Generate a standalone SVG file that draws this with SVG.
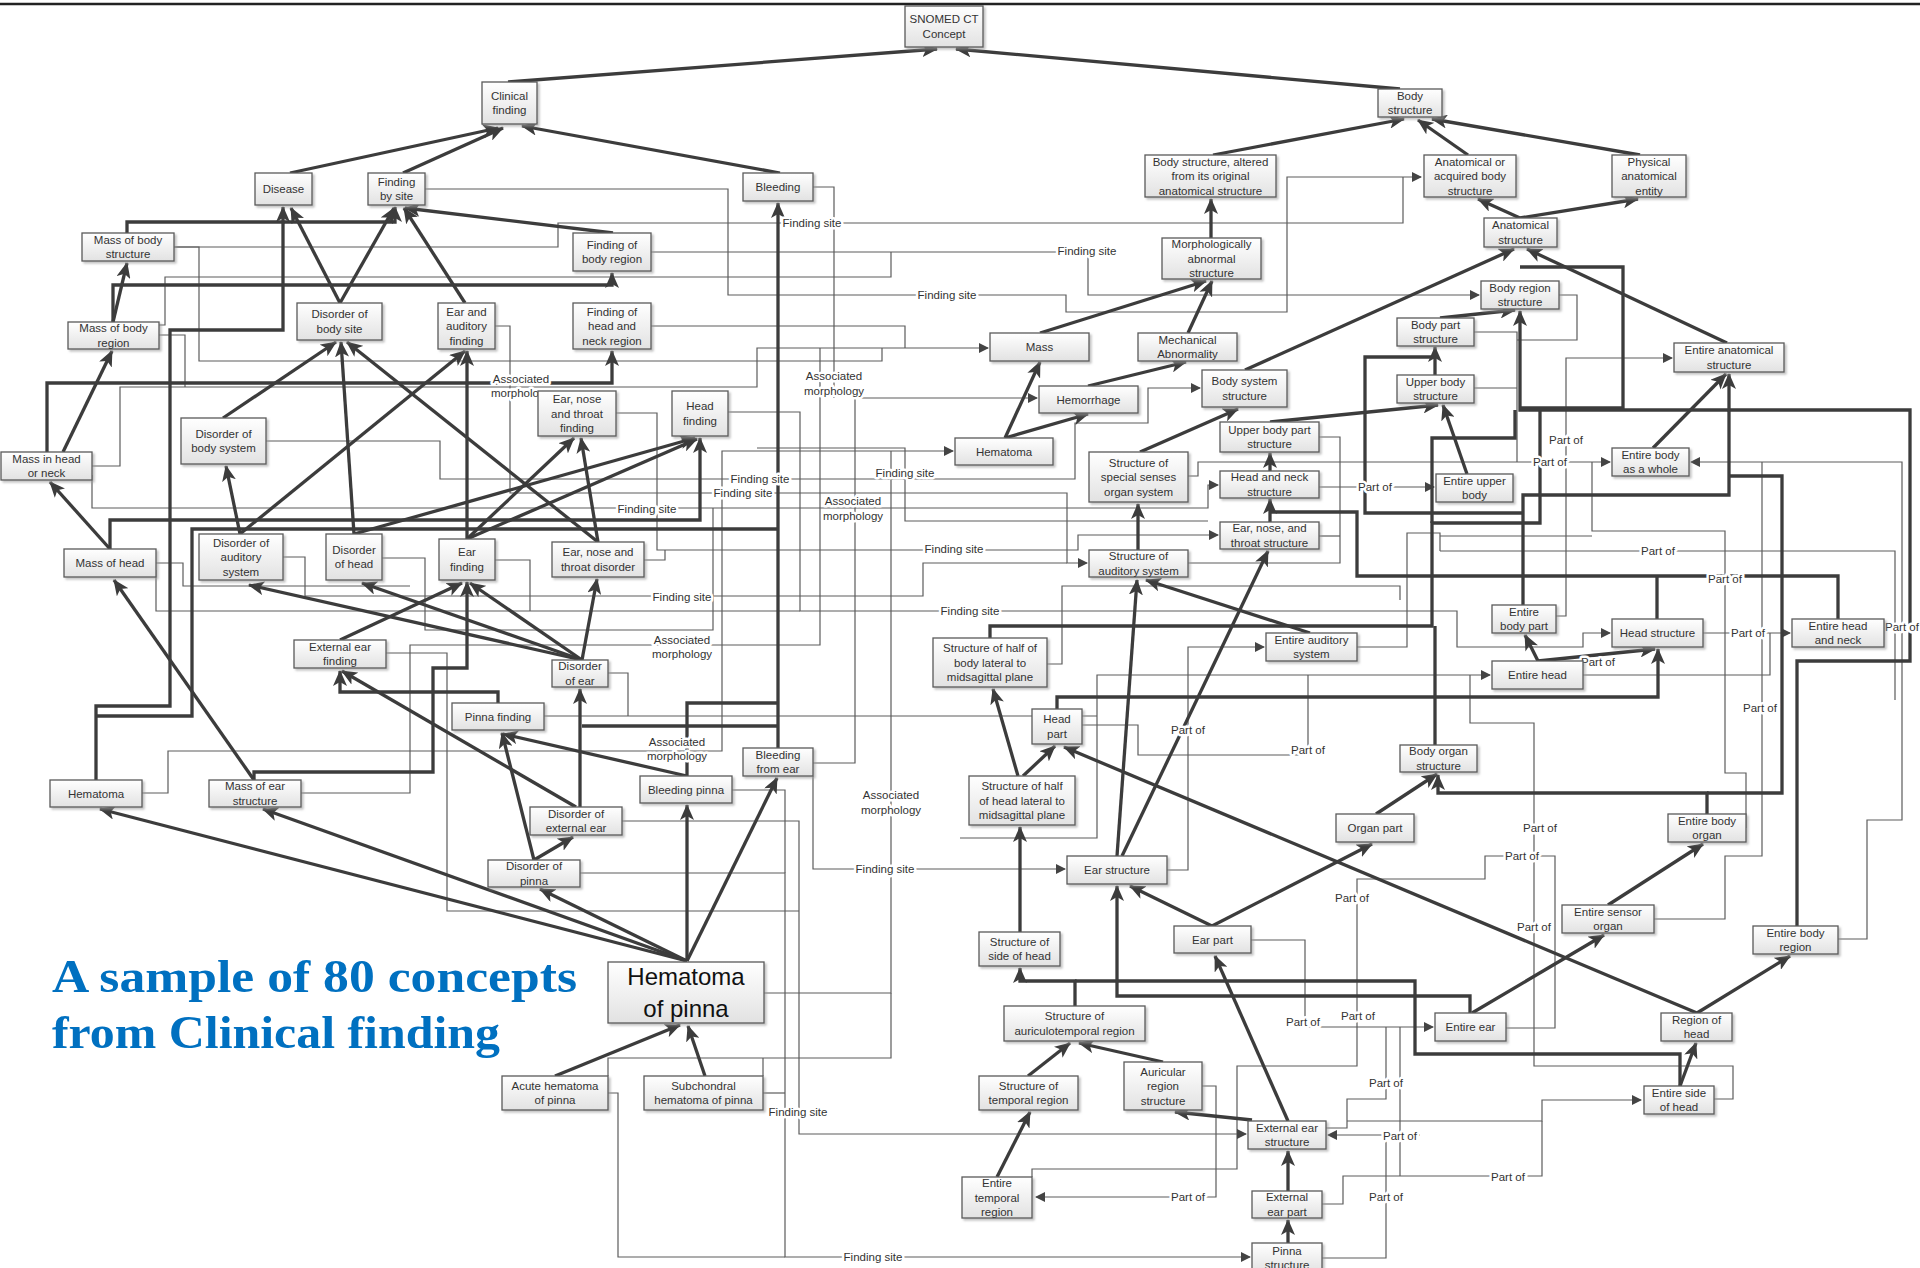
<svg xmlns="http://www.w3.org/2000/svg" width="1920" height="1268" viewBox="0 0 1920 1268">
<defs>
<linearGradient id="g" x1="0" y1="0" x2="0" y2="1"><stop offset="0" stop-color="#ffffff"/><stop offset="1" stop-color="#e2e2e2"/></linearGradient>
<filter id="sh" x="-10%" y="-10%" width="130%" height="140%"><feDropShadow dx="2" dy="2" stdDeviation="1" flood-color="#999" flood-opacity="0.6"/></filter>
<marker id="ah" markerUnits="userSpaceOnUse" markerWidth="16" markerHeight="14" refX="15" refY="7" orient="auto"><path d="M0,0 L16,7 L0,14 L4,7 z" fill="#3c3c3c"/></marker>
<marker id="as" markerUnits="userSpaceOnUse" markerWidth="10" markerHeight="10" refX="9" refY="5" orient="auto"><path d="M0,0 L10,5 L0,10 z" fill="#444"/></marker>
<style>
.n rect{fill:url(#g);stroke:#5a5a5a;stroke-width:1.3;filter:url(#sh)}
.n text{font-family:"Liberation Sans",Arial,sans-serif;font-size:11.5px;fill:#333;text-anchor:middle}
#thin path{fill:none;stroke:#5c5c5c;stroke-width:1.2;marker-end:url(#as)}
#thin path.p{marker-end:none}
#thick path{fill:none;stroke:#3c3c3c;stroke-width:3.3;marker-end:url(#ah);stroke-linejoin:miter}
#thick path.p{marker-end:none}
.l{font-family:"Liberation Sans",Arial,sans-serif;font-size:11.5px;fill:#333;text-anchor:middle;paint-order:stroke;stroke:#fff;stroke-width:5px;stroke-linejoin:round}
.title{font-family:"Liberation Serif","DejaVu Serif",serif;font-weight:bold;font-size:47px;fill:#0070c0}
</style>
</defs>
<rect x="0" y="0" width="1920" height="1268" fill="#fff"/>
<path d="M0,4 L1920,4" stroke="#222" stroke-width="2.5"/>

<g id="connectors">
<g id="thin">
<path d="M425,189 L728,189 L728,295 L1066,295 L1066,312 L1287,312 L1287,177 L1421,177"/>
<path class="p" d="M174,247 L558,247 L558,223 L1403,223 L1403,177"/>
<path d="M651,252 L1088,252 L1088,295 L1479,295"/>
<path class="p" d="M159,325 L165,325 L165,277 L891,277 L891,252"/>
<path class="p" d="M174,247 L199,247 L199,361 L882,361 L882,348"/>
<path d="M92,466 L120,466 L120,387 L757,387 L757,348 L988,348"/>
<path class="p" d="M159,335 L185,335 L185,387"/>
<path class="p" d="M651,326 L905,326 L905,348"/>
<path d="M728,412 L800,412 L800,611 L1457,611 L1457,647 L1583,647 L1583,633 L1610,633"/>
<path d="M616,413 L657,413 L657,550 L1078,550 L1078,535 L1218,535"/>
<path class="p" d="M644,560 L665,560 L665,550"/>
<path d="M495,326 L510,326 L510,493 L1067,493 L1067,563 L1087,563"/>
<path d="M266,441 L440,441 L440,479 L1075,479 L1075,423 L1148,423 L1148,388 L1200,388"/>
<path d="M92,475 L92,508 L1208,508 L1208,485 L1218,485"/>
<path class="p" d="M382,558 L425,558 L425,630 L713,630 L713,508"/>
<path class="p" d="M283,557 L305,557 L305,596 L923,596 L923,563 L1067,563"/>
<path class="p" d="M156,563 L183,563 L183,586 L410,586"/>
<path class="p" d="M156,570 L156,611 L800,611"/>
<path d="M142,793 L168,793 L168,751 L722,751 L722,451 L953,451"/>
<path class="p" d="M301,793 L410,793 L410,645 L820,645 L820,348"/>
<path class="p" d="M386,653 L447,653 L447,911 L799,911"/>
<path class="p" d="M544,716 L1097,716"/>
<path d="M960,838 L1097,838 L1097,675 L1490,675"/>
<path class="p" d="M1082,725 L1138,725 L1138,755 L1308,755 L1308,675"/>
<path d="M1167,870 L1188,870 L1188,647 L1264,647"/>
<path class="p" d="M1357,647 L1407,647 L1407,533 L1440,533 L1440,551"/>
<path d="M1188,476 L1198,476 L1198,462 L1610,462"/>
<path class="p" d="M1319,437 L1340,437 L1340,563 L1188,563"/>
<path class="p" d="M1319,536 L1340,536"/>
<path d="M1319,487 L1434,487"/>
<path class="p" d="M1474,332 L1517,332 L1517,462"/>
<path class="p" d="M1474,388 L1517,388"/>
<path class="p" d="M1559,295 L1577,295 L1577,340 L1517,340"/>
<path d="M1556,616 L1566,616 L1566,358 L1672,358"/>
<path class="p" d="M1746,828 L1746,773 L1725,773 L1725,531 L1592,531 L1592,462"/>
<path d="M1838,939 L1867,939 L1867,820 L1902,820 L1902,462 L1691,462"/>
<path class="p" d="M1654,919 L1725,919 L1725,856 L1762,856 L1762,462"/>
<path d="M1703,633 L1790,633"/>
<path class="p" d="M1583,675 L1770,675 L1770,633"/>
<path class="p" d="M1440,551 L1895,551 L1895,700"/>
<path class="p" d="M1440,536 L1592,536"/>
<path class="p" d="M1714,1099 L1733,1099 L1733,1066 L1534,1066 L1534,723 L1470,723 L1470,675"/>
<path class="p" d="M1506,1028 L1555,1028 L1555,856 L1485,856 L1485,879 L1357,879 L1357,1066 L1237,1066 L1237,1169 L1032,1169 L1032,1177"/>
<path d="M1251,940 L1305,940 L1305,1027 L1433,1027"/>
<path class="p" d="M1326,1128 L1347,1128 L1347,1099 L1386,1099 L1386,1027"/>
<path d="M1347,1121 L1542,1121 L1542,1100 L1641,1100"/>
<path class="p" d="M1400,1027 L1400,1176"/>
<path class="p" d="M1322,1204 L1343,1204 L1343,1176 L1542,1176 L1542,1121"/>
<path class="p" d="M1322,1258 L1386,1258 L1386,1135"/>
<path d="M1420,1135 L1328,1135"/>
<path d="M1202,1086 L1216,1086 L1216,1197 L1036,1197"/>
<path d="M622,821 L799,821 L799,1134 L1246,1134"/>
<path class="p" d="M763,1093 L785,1093"/>
<path d="M580,873 L785,873 L785,1257 L1250,1257"/>
<path class="p" d="M608,1093 L618,1093 L618,1257 L785,1257"/>
<path class="p" d="M732,790 L785,790 L785,873"/>
<path class="p" d="M764,993 L891,993 L891,451"/>
<path class="p" d="M608,1076 L608,1058 L891,1058 L891,993"/>
<path class="p" d="M763,1076 L763,1058"/>
<path d="M813,776 L813,869 L1065,869"/>
<path d="M813,763 L855,763 L855,398 L1037,398"/>
<path class="p" d="M813,187 L834,187 L834,398"/>
<path class="p" d="M757,448 L905,448 L905,521 L1208,521"/>
<path class="p" d="M608,673 L628,673 L628,716"/>
<path class="p" d="M495,560 L530,560 L530,611"/>
<path class="p" d="M1047,664 L1062,664 L1062,586 L1400,586 L1400,600"/>
</g>

<g id="thick">
<path d="M508,82 L937,49"/>
<path d="M1400,89 L956,49"/>
<path d="M290,173 L498,128"/>
<path d="M403,173 L503,128"/>
<path d="M780,173 L522,126"/>
<path d="M1213,155 L1404,119"/>
<path d="M1468,155 L1418,120"/>
<path d="M1640,155 L1432,119"/>
<path d="M1520,218 L1478,199"/>
<path d="M1520,218 L1638,199"/>
<path d="M1211,238 L1211,199"/>
<path d="M1040,333 L1206,281"/>
<path d="M1188,333 L1212,281"/>
<path d="M1088,386 L1186,362"/>
<path d="M1005,438 L1040,362"/>
<path d="M1005,438 L1088,414"/>
<path d="M1245,370 L1514,249"/>
<path d="M1140,452 L1238,409"/>
<path d="M1440,318 L1515,310"/>
<path d="M1435,375 L1435,347"/>
<path d="M1727,343 L1527,249"/>
<path d="M1653,448 L1726,374"/>
<path d="M1270,422 L1438,405"/>
<path d="M1467,474 L1443,405"/>
<path d="M1270,471 L1270,453"/>
<path d="M1270,522 L1270,499"/>
<path class="p" d="M1838,619 L1838,576 L1357,576 L1357,512 L1270,512"/>
<path class="p" d="M1657,619 L1657,576"/>
<path d="M1138,550 L1138,504"/>
<path d="M1117,856 L1137,580"/>
<path d="M1310,633 L1146,580"/>
<path d="M1122,856 L1268,551"/>
<path d="M990,638 L990,626 L1432,626 L1432,523 L1540,523 L1540,410 L1520,410 L1520,311"/>
<path class="p" d="M1432,523 L1432,438 L1515,438 L1515,410"/>
<path class="p" d="M1435,745 L1435,626"/>
<path class="p" d="M1520,408 L1623,408 L1623,267 L1520,267"/>
<path d="M1797,926 L1797,661 L1910,661 L1910,410 L1729,410 L1729,374"/>
<path class="p" d="M1540,410 L1729,410"/>
<path class="p" d="M1523,605 L1523,495 L1729,495 L1729,410"/>
<path class="p" d="M1523,513 L1365,513 L1365,357 L1435,357"/>
<path d="M1707,814 L1707,793 L1438,793 L1438,775"/>
<path class="p" d="M1707,793 L1782,793 L1782,476 L1729,476"/>
<path d="M1057,709 L1057,697 L1658,697 L1658,649"/>
<path d="M1023,776 L1055,746"/>
<path d="M1018,776 L993,689"/>
<path d="M1020,932 L1020,827"/>
<path d="M1075,1006 L1075,981 L1020,981 L1020,968"/>
<path class="p" d="M1680,1086 L1680,1054 L1415,1054 L1415,981 L1075,981"/>
<path d="M1470,1013 L1470,996 L1117,996 L1117,886"/>
<path d="M1212,926 L1130,886"/>
<path d="M1212,926 L1372,844"/>
<path d="M1288,1121 L1215,956"/>
<path d="M1252,1120 L1175,1112"/>
<path d="M1163,1062 L1079,1043"/>
<path d="M1028,1076 L1070,1043"/>
<path d="M997,1177 L1030,1112"/>
<path d="M1288,1191 L1288,1151"/>
<path d="M1288,1243 L1288,1220"/>
<path d="M1376,814 L1437,774"/>
<path d="M1608,905 L1703,844"/>
<path d="M1472,1013 L1604,935"/>
<path d="M1697,1013 L1790,956"/>
<path d="M1697,1013 L1064,747"/>
<path d="M1680,1086 L1696,1043"/>
<path d="M1538,661 L1525,635"/>
<path d="M1538,661 L1655,649"/>
<path d="M127,233 L127,222 L283,222 L283,207"/>
<path d="M283,222 L395,222 L395,207"/>
<path d="M113,322 L127,263"/>
<path d="M113,322 L113,285 L612,285 L612,273"/>
<path d="M63,452 L112,351"/>
<path d="M47,452 L47,383 L612,383 L612,351"/>
<path d="M340,303 L291,208"/>
<path d="M340,303 L394,208"/>
<path d="M465,303 L404,208"/>
<path class="p" d="M96,780 L96,706 L170,706 L170,330 L283,330 L283,222"/>
<path class="p" d="M96,716 L192,716 L192,529 L778,529"/>
<path d="M778,748 L778,203"/>
<path class="p" d="M582,726 L778,726"/>
<path class="p" d="M687,776 L687,703 L778,703"/>
<path d="M613,233 L405,208"/>
<path d="M254,780 L254,772 L433,772 L433,668 L467,668 L467,582"/>
<path d="M340,640 L462,583"/>
<path d="M498,703 L498,692 L340,692 L340,671"/>
<path d="M254,780 L114,580"/>
<path d="M110,549 L50,482"/>
<path d="M110,549 L110,520 L700,520 L700,438"/>
<path d="M354,534 L695,438"/>
<path d="M467,539 L697,439"/>
<path d="M467,539 L574,438"/>
<path d="M598,542 L581,438"/>
<path d="M598,542 L347,342"/>
<path d="M467,539 L467,351"/>
<path d="M354,534 L341,342"/>
<path d="M240,534 L226,466"/>
<path d="M240,534 L465,351"/>
<path d="M223,418 L336,342"/>
<path d="M582,660 L249,585"/>
<path d="M582,660 L362,583"/>
<path d="M582,660 L470,583"/>
<path d="M582,660 L597,579"/>
<path d="M576,807 L342,671"/>
<path d="M580,807 L580,689"/>
<path d="M534,860 L502,733"/>
<path d="M534,860 L573,837"/>
<path d="M687,776 L503,734"/>
<path d="M687,961 L100,809"/>
<path d="M687,961 L263,809"/>
<path d="M687,961 L540,889"/>
<path d="M687,961 L687,805"/>
<path d="M687,961 L777,778"/>
<path d="M555,1076 L680,1025"/>
<path d="M705,1076 L688,1026"/>
</g>

<g id="labels">
<text class="l" x="812" y="227">Finding site</text>
<text class="l" x="1087" y="255">Finding site</text>
<text class="l" x="947" y="299">Finding site</text>
<text class="l" x="521" y="383">Associated</text>
<text class="l" x="521" y="397">morphology</text>
<text class="l" x="834" y="380">Associated</text>
<text class="l" x="834" y="395">morphology</text>
<text class="l" x="905" y="477">Finding site</text>
<text class="l" x="760" y="483">Finding site</text>
<text class="l" x="743" y="497">Finding site</text>
<text class="l" x="647" y="513">Finding site</text>
<text class="l" x="853" y="505">Associated</text>
<text class="l" x="853" y="520">morphology</text>
<text class="l" x="954" y="553">Finding site</text>
<text class="l" x="682" y="601">Finding site</text>
<text class="l" x="970" y="615">Finding site</text>
<text class="l" x="682" y="644">Associated</text>
<text class="l" x="682" y="658">morphology</text>
<text class="l" x="677" y="746">Associated</text>
<text class="l" x="677" y="760">morphology</text>
<text class="l" x="891" y="799">Associated</text>
<text class="l" x="891" y="814">morphology</text>
<text class="l" x="885" y="873">Finding site</text>
<text class="l" x="798" y="1116">Finding site</text>
<text class="l" x="873" y="1261">Finding site</text>
<text class="l" x="1375" y="491">Part of</text>
<text class="l" x="1566" y="444">Part of</text>
<text class="l" x="1550" y="466">Part of</text>
<text class="l" x="1658" y="555">Part of</text>
<text class="l" x="1725" y="583">Part of</text>
<text class="l" x="1598" y="666">Part of</text>
<text class="l" x="1748" y="637">Part of</text>
<text class="l" x="1902" y="631">Part of</text>
<text class="l" x="1760" y="712">Part of</text>
<text class="l" x="1540" y="832">Part of</text>
<text class="l" x="1188" y="734">Part of</text>
<text class="l" x="1308" y="754">Part of</text>
<text class="l" x="1352" y="902">Part of</text>
<text class="l" x="1303" y="1026">Part of</text>
<text class="l" x="1358" y="1020">Part of</text>
<text class="l" x="1386" y="1087">Part of</text>
<text class="l" x="1400" y="1140">Part of</text>
<text class="l" x="1188" y="1201">Part of</text>
<text class="l" x="1386" y="1201">Part of</text>
<text class="l" x="1522" y="860">Part of</text>
<text class="l" x="1534" y="931">Part of</text>
<text class="l" x="1508" y="1181">Part of</text>
</g>
</g>

<g id="nodes">
<g id="n1" class="n"><rect x="905" y="6" width="78" height="41"/><text x="944" y="23"><tspan x="944">SNOMED CT</tspan><tspan x="944" dy="14.5">Concept</tspan></text></g>
<g id="n2" class="n"><rect x="482" y="82" width="55" height="42"/><text x="509.5" y="99.8"><tspan x="509.5">Clinical</tspan><tspan x="509.5" dy="14.5">finding</tspan></text></g>
<g id="n3" class="n"><rect x="1378" y="89" width="64" height="28"/><text x="1410" y="99.8"><tspan x="1410">Body</tspan><tspan x="1410" dy="14.5">structure</tspan></text></g>
<g id="n4" class="n"><rect x="255" y="173" width="57" height="32"/><text x="283.5" y="193">Disease</text></g>
<g id="n5" class="n"><rect x="368" y="173" width="57" height="32"/><text x="396.5" y="185.8"><tspan x="396.5">Finding</tspan><tspan x="396.5" dy="14.5">by site</tspan></text></g>
<g id="n6" class="n"><rect x="743" y="173" width="70" height="28"/><text x="778" y="191">Bleeding</text></g>
<g id="n7" class="n"><rect x="1145" y="155" width="131" height="42"/><text x="1210.5" y="165.5"><tspan x="1210.5">Body structure, altered</tspan><tspan x="1210.5" dy="14.5">from its original</tspan><tspan x="1210.5" dy="14.5">anatomical structure</tspan></text></g>
<g id="n8" class="n"><rect x="1424" y="155" width="92" height="42"/><text x="1470" y="165.5"><tspan x="1470">Anatomical or</tspan><tspan x="1470" dy="14.5">acquired body</tspan><tspan x="1470" dy="14.5">structure</tspan></text></g>
<g id="n9" class="n"><rect x="1612" y="155" width="74" height="42"/><text x="1649" y="165.5"><tspan x="1649">Physical</tspan><tspan x="1649" dy="14.5">anatomical</tspan><tspan x="1649" dy="14.5">entity</tspan></text></g>
<g id="n10" class="n"><rect x="82" y="233" width="92" height="28"/><text x="128" y="243.8"><tspan x="128">Mass of body</tspan><tspan x="128" dy="14.5">structure</tspan></text></g>
<g id="n11" class="n"><rect x="573" y="233" width="78" height="38"/><text x="612" y="248.8"><tspan x="612">Finding of</tspan><tspan x="612" dy="14.5">body region</tspan></text></g>
<g id="n12" class="n"><rect x="1484" y="218" width="73" height="29"/><text x="1520.5" y="229.3"><tspan x="1520.5">Anatomical</tspan><tspan x="1520.5" dy="14.5">structure</tspan></text></g>
<g id="n13" class="n"><rect x="1162" y="238" width="99" height="41"/><text x="1211.5" y="248"><tspan x="1211.5">Morphologically</tspan><tspan x="1211.5" dy="14.5">abnormal</tspan><tspan x="1211.5" dy="14.5">structure</tspan></text></g>
<g id="n14" class="n"><rect x="1481" y="281" width="78" height="28"/><text x="1520" y="291.8"><tspan x="1520">Body region</tspan><tspan x="1520" dy="14.5">structure</tspan></text></g>
<g id="n15" class="n"><rect x="68" y="322" width="91" height="27"/><text x="113.5" y="332.3"><tspan x="113.5">Mass of body</tspan><tspan x="113.5" dy="14.5">region</tspan></text></g>
<g id="n16" class="n"><rect x="297" y="303" width="85" height="37"/><text x="339.5" y="318.3"><tspan x="339.5">Disorder of</tspan><tspan x="339.5" dy="14.5">body site</tspan></text></g>
<g id="n17" class="n"><rect x="438" y="303" width="57" height="46"/><text x="466.5" y="315.5"><tspan x="466.5">Ear and</tspan><tspan x="466.5" dy="14.5">auditory</tspan><tspan x="466.5" dy="14.5">finding</tspan></text></g>
<g id="n18" class="n"><rect x="573" y="303" width="78" height="46"/><text x="612" y="315.5"><tspan x="612">Finding of</tspan><tspan x="612" dy="14.5">head and</tspan><tspan x="612" dy="14.5">neck region</tspan></text></g>
<g id="n19" class="n"><rect x="1397" y="318" width="77" height="28"/><text x="1435.5" y="328.8"><tspan x="1435.5">Body part</tspan><tspan x="1435.5" dy="14.5">structure</tspan></text></g>
<g id="n20" class="n"><rect x="990" y="333" width="99" height="28"/><text x="1039.5" y="351">Mass</text></g>
<g id="n21" class="n"><rect x="1138" y="333" width="99" height="28"/><text x="1187.5" y="343.8"><tspan x="1187.5">Mechanical</tspan><tspan x="1187.5" dy="14.5">Abnormality</tspan></text></g>
<g id="n22" class="n"><rect x="1674" y="343" width="110" height="29"/><text x="1729" y="354.3"><tspan x="1729">Entire anatomical</tspan><tspan x="1729" dy="14.5">structure</tspan></text></g>
<g id="n23" class="n"><rect x="1202" y="370" width="85" height="37"/><text x="1244.5" y="385.3"><tspan x="1244.5">Body system</tspan><tspan x="1244.5" dy="14.5">structure</tspan></text></g>
<g id="n24" class="n"><rect x="1039" y="386" width="99" height="27"/><text x="1088.5" y="403.5">Hemorrhage</text></g>
<g id="n25" class="n"><rect x="1397" y="375" width="77" height="28"/><text x="1435.5" y="385.8"><tspan x="1435.5">Upper body</tspan><tspan x="1435.5" dy="14.5">structure</tspan></text></g>
<g id="n26" class="n"><rect x="1" y="452" width="91" height="28"/><text x="46.5" y="462.8"><tspan x="46.5">Mass in head</tspan><tspan x="46.5" dy="14.5">or neck</tspan></text></g>
<g id="n27" class="n"><rect x="181" y="418" width="85" height="46"/><text x="223.5" y="437.8"><tspan x="223.5">Disorder of</tspan><tspan x="223.5" dy="14.5">body system</tspan></text></g>
<g id="n28" class="n"><rect x="538" y="391" width="78" height="45"/><text x="577" y="403"><tspan x="577">Ear, nose</tspan><tspan x="577" dy="14.5">and throat</tspan><tspan x="577" dy="14.5">finding</tspan></text></g>
<g id="n29" class="n"><rect x="672" y="391" width="56" height="45"/><text x="700" y="410.3"><tspan x="700">Head</tspan><tspan x="700" dy="14.5">finding</tspan></text></g>
<g id="n30" class="n"><rect x="955" y="438" width="98" height="27"/><text x="1004" y="455.5">Hematoma</text></g>
<g id="n31" class="n"><rect x="1220" y="422" width="99" height="30"/><text x="1269.5" y="433.8"><tspan x="1269.5">Upper body part</tspan><tspan x="1269.5" dy="14.5">structure</tspan></text></g>
<g id="n32" class="n"><rect x="1089" y="452" width="99" height="50"/><text x="1138.5" y="466.5"><tspan x="1138.5">Structure of</tspan><tspan x="1138.5" dy="14.5">special senses</tspan><tspan x="1138.5" dy="14.5">organ system</tspan></text></g>
<g id="n33" class="n"><rect x="1612" y="448" width="77" height="28"/><text x="1650.5" y="458.8"><tspan x="1650.5">Entire body</tspan><tspan x="1650.5" dy="14.5">as a whole</tspan></text></g>
<g id="n34" class="n"><rect x="1220" y="471" width="99" height="27"/><text x="1269.5" y="481.3"><tspan x="1269.5">Head and neck</tspan><tspan x="1269.5" dy="14.5">structure</tspan></text></g>
<g id="n35" class="n"><rect x="1436" y="474" width="77" height="28"/><text x="1474.5" y="484.8"><tspan x="1474.5">Entire upper</tspan><tspan x="1474.5" dy="14.5">body</tspan></text></g>
<g id="n36" class="n"><rect x="64" y="549" width="92" height="28"/><text x="110" y="567">Mass of head</text></g>
<g id="n37" class="n"><rect x="199" y="534" width="84" height="46"/><text x="241" y="546.5"><tspan x="241">Disorder of</tspan><tspan x="241" dy="14.5">auditory</tspan><tspan x="241" dy="14.5">system</tspan></text></g>
<g id="n38" class="n"><rect x="326" y="534" width="56" height="46"/><text x="354" y="553.8"><tspan x="354">Disorder</tspan><tspan x="354" dy="14.5">of head</tspan></text></g>
<g id="n39" class="n"><rect x="439" y="539" width="56" height="41"/><text x="467" y="556.3"><tspan x="467">Ear</tspan><tspan x="467" dy="14.5">finding</tspan></text></g>
<g id="n40" class="n"><rect x="552" y="542" width="92" height="35"/><text x="598" y="556.3"><tspan x="598">Ear, nose and</tspan><tspan x="598" dy="14.5">throat disorder</tspan></text></g>
<g id="n41" class="n"><rect x="1089" y="550" width="99" height="27"/><text x="1138.5" y="560.3"><tspan x="1138.5">Structure of</tspan><tspan x="1138.5" dy="14.5">auditory system</tspan></text></g>
<g id="n42" class="n"><rect x="1220" y="522" width="99" height="27"/><text x="1269.5" y="532.3"><tspan x="1269.5">Ear, nose, and</tspan><tspan x="1269.5" dy="14.5">throat structure</tspan></text></g>
<g id="n43" class="n"><rect x="1492" y="605" width="64" height="28"/><text x="1524" y="615.8"><tspan x="1524">Entire</tspan><tspan x="1524" dy="14.5">body part</tspan></text></g>
<g id="n44" class="n"><rect x="294" y="640" width="92" height="28"/><text x="340" y="650.8"><tspan x="340">External ear</tspan><tspan x="340" dy="14.5">finding</tspan></text></g>
<g id="n45" class="n"><rect x="552" y="660" width="56" height="27"/><text x="580" y="670.3"><tspan x="580">Disorder</tspan><tspan x="580" dy="14.5">of ear</tspan></text></g>
<g id="n46" class="n"><rect x="933" y="638" width="114" height="49"/><text x="990" y="652"><tspan x="990">Structure of half of</tspan><tspan x="990" dy="14.5">body lateral to</tspan><tspan x="990" dy="14.5">midsagittal plane</tspan></text></g>
<g id="n47" class="n"><rect x="1266" y="633" width="91" height="28"/><text x="1311.5" y="643.8"><tspan x="1311.5">Entire auditory</tspan><tspan x="1311.5" dy="14.5">system</tspan></text></g>
<g id="n48" class="n"><rect x="1612" y="619" width="91" height="28"/><text x="1657.5" y="637">Head structure</text></g>
<g id="n49" class="n"><rect x="1792" y="619" width="92" height="28"/><text x="1838" y="629.8"><tspan x="1838">Entire head</tspan><tspan x="1838" dy="14.5">and neck</tspan></text></g>
<g id="n50" class="n"><rect x="1492" y="661" width="91" height="28"/><text x="1537.5" y="679">Entire head</text></g>
<g id="n51" class="n"><rect x="452" y="703" width="92" height="27"/><text x="498" y="720.5">Pinna finding</text></g>
<g id="n52" class="n"><rect x="1032" y="709" width="50" height="35"/><text x="1057" y="723.3"><tspan x="1057">Head</tspan><tspan x="1057" dy="14.5">part</tspan></text></g>
<g id="n53" class="n"><rect x="1400" y="745" width="77" height="27"/><text x="1438.5" y="755.3"><tspan x="1438.5">Body organ</tspan><tspan x="1438.5" dy="14.5">structure</tspan></text></g>
<g id="n54" class="n"><rect x="50" y="780" width="92" height="27"/><text x="96" y="797.5">Hematoma</text></g>
<g id="n55" class="n"><rect x="209" y="780" width="92" height="27"/><text x="255" y="790.3"><tspan x="255">Mass of ear</tspan><tspan x="255" dy="14.5">structure</tspan></text></g>
<g id="n56" class="n"><rect x="640" y="776" width="92" height="27"/><text x="686" y="793.5">Bleeding pinna</text></g>
<g id="n57" class="n"><rect x="743" y="748" width="70" height="28"/><text x="778" y="758.8"><tspan x="778">Bleeding</tspan><tspan x="778" dy="14.5">from ear</tspan></text></g>
<g id="n58" class="n"><rect x="969" y="776" width="106" height="49"/><text x="1022" y="790"><tspan x="1022">Structure of half</tspan><tspan x="1022" dy="14.5">of head lateral to</tspan><tspan x="1022" dy="14.5">midsagittal plane</tspan></text></g>
<g id="n59" class="n"><rect x="530" y="807" width="92" height="28"/><text x="576" y="817.8"><tspan x="576">Disorder of</tspan><tspan x="576" dy="14.5">external ear</tspan></text></g>
<g id="n60" class="n"><rect x="1336" y="814" width="78" height="28"/><text x="1375" y="832">Organ part</text></g>
<g id="n61" class="n"><rect x="1668" y="814" width="78" height="28"/><text x="1707" y="824.8"><tspan x="1707">Entire body</tspan><tspan x="1707" dy="14.5">organ</tspan></text></g>
<g id="n62" class="n"><rect x="488" y="860" width="92" height="27"/><text x="534" y="870.3"><tspan x="534">Disorder of</tspan><tspan x="534" dy="14.5">pinna</tspan></text></g>
<g id="n63" class="n"><rect x="1067" y="856" width="100" height="28"/><text x="1117" y="874">Ear structure</text></g>
<g id="n64" class="n"><rect x="1562" y="905" width="92" height="28"/><text x="1608" y="915.8"><tspan x="1608">Entire sensor</tspan><tspan x="1608" dy="14.5">organ</tspan></text></g>
<g id="n65" class="n"><rect x="1753" y="926" width="85" height="28"/><text x="1795.5" y="936.8"><tspan x="1795.5">Entire body</tspan><tspan x="1795.5" dy="14.5">region</tspan></text></g>
<g id="n66" class="n"><rect x="1174" y="926" width="77" height="27"/><text x="1212.5" y="943.5">Ear part</text></g>
<g id="n67" class="n"><rect x="979" y="932" width="81" height="34"/><text x="1019.5" y="945.8"><tspan x="1019.5">Structure of</tspan><tspan x="1019.5" dy="14.5">side of head</tspan></text></g>
<g id="n68" class="n"><rect x="608" y="962" width="156" height="61"/><text x="686" y="985" style="font-size:24px;fill:#111"><tspan x="686">Hematoma</tspan><tspan x="686" dy="32">of pinna</tspan></text></g>
<g id="n69" class="n"><rect x="1004" y="1006" width="141" height="35"/><text x="1074.5" y="1020.3"><tspan x="1074.5">Structure of</tspan><tspan x="1074.5" dy="14.5">auriculotemporal region</tspan></text></g>
<g id="n70" class="n"><rect x="1435" y="1013" width="71" height="28"/><text x="1470.5" y="1031">Entire ear</text></g>
<g id="n71" class="n"><rect x="1661" y="1013" width="71" height="28"/><text x="1696.5" y="1023.8"><tspan x="1696.5">Region of</tspan><tspan x="1696.5" dy="14.5">head</tspan></text></g>
<g id="n72" class="n"><rect x="502" y="1076" width="106" height="34"/><text x="555" y="1089.8"><tspan x="555">Acute hematoma</tspan><tspan x="555" dy="14.5">of pinna</tspan></text></g>
<g id="n73" class="n"><rect x="644" y="1076" width="119" height="34"/><text x="703.5" y="1089.8"><tspan x="703.5">Subchondral</tspan><tspan x="703.5" dy="14.5">hematoma of pinna</tspan></text></g>
<g id="n74" class="n"><rect x="979" y="1076" width="99" height="34"/><text x="1028.5" y="1089.8"><tspan x="1028.5">Structure of</tspan><tspan x="1028.5" dy="14.5">temporal region</tspan></text></g>
<g id="n75" class="n"><rect x="1124" y="1062" width="78" height="48"/><text x="1163" y="1075.5"><tspan x="1163">Auricular</tspan><tspan x="1163" dy="14.5">region</tspan><tspan x="1163" dy="14.5">structure</tspan></text></g>
<g id="n76" class="n"><rect x="1644" y="1086" width="70" height="28"/><text x="1679" y="1096.8"><tspan x="1679">Entire side</tspan><tspan x="1679" dy="14.5">of head</tspan></text></g>
<g id="n77" class="n"><rect x="1248" y="1121" width="78" height="28"/><text x="1287" y="1131.8"><tspan x="1287">External ear</tspan><tspan x="1287" dy="14.5">structure</tspan></text></g>
<g id="n78" class="n"><rect x="962" y="1177" width="70" height="41"/><text x="997" y="1187"><tspan x="997">Entire</tspan><tspan x="997" dy="14.5">temporal</tspan><tspan x="997" dy="14.5">region</tspan></text></g>
<g id="n79" class="n"><rect x="1252" y="1191" width="70" height="27"/><text x="1287" y="1201.3"><tspan x="1287">External</tspan><tspan x="1287" dy="14.5">ear part</tspan></text></g>
<g id="n80" class="n"><rect x="1252" y="1243" width="70" height="30"/><text x="1287" y="1254.5"><tspan x="1287">Pinna</tspan><tspan x="1287" dy="14.5">structure</tspan></text></g>
</g>

<g id="title">
<text class="title" x="52" y="992" textLength="525" lengthAdjust="spacingAndGlyphs">A sample of 80 concepts</text>
<text class="title" x="52" y="1048" textLength="448" lengthAdjust="spacingAndGlyphs">from Clinical finding</text>
</g>
</svg>
